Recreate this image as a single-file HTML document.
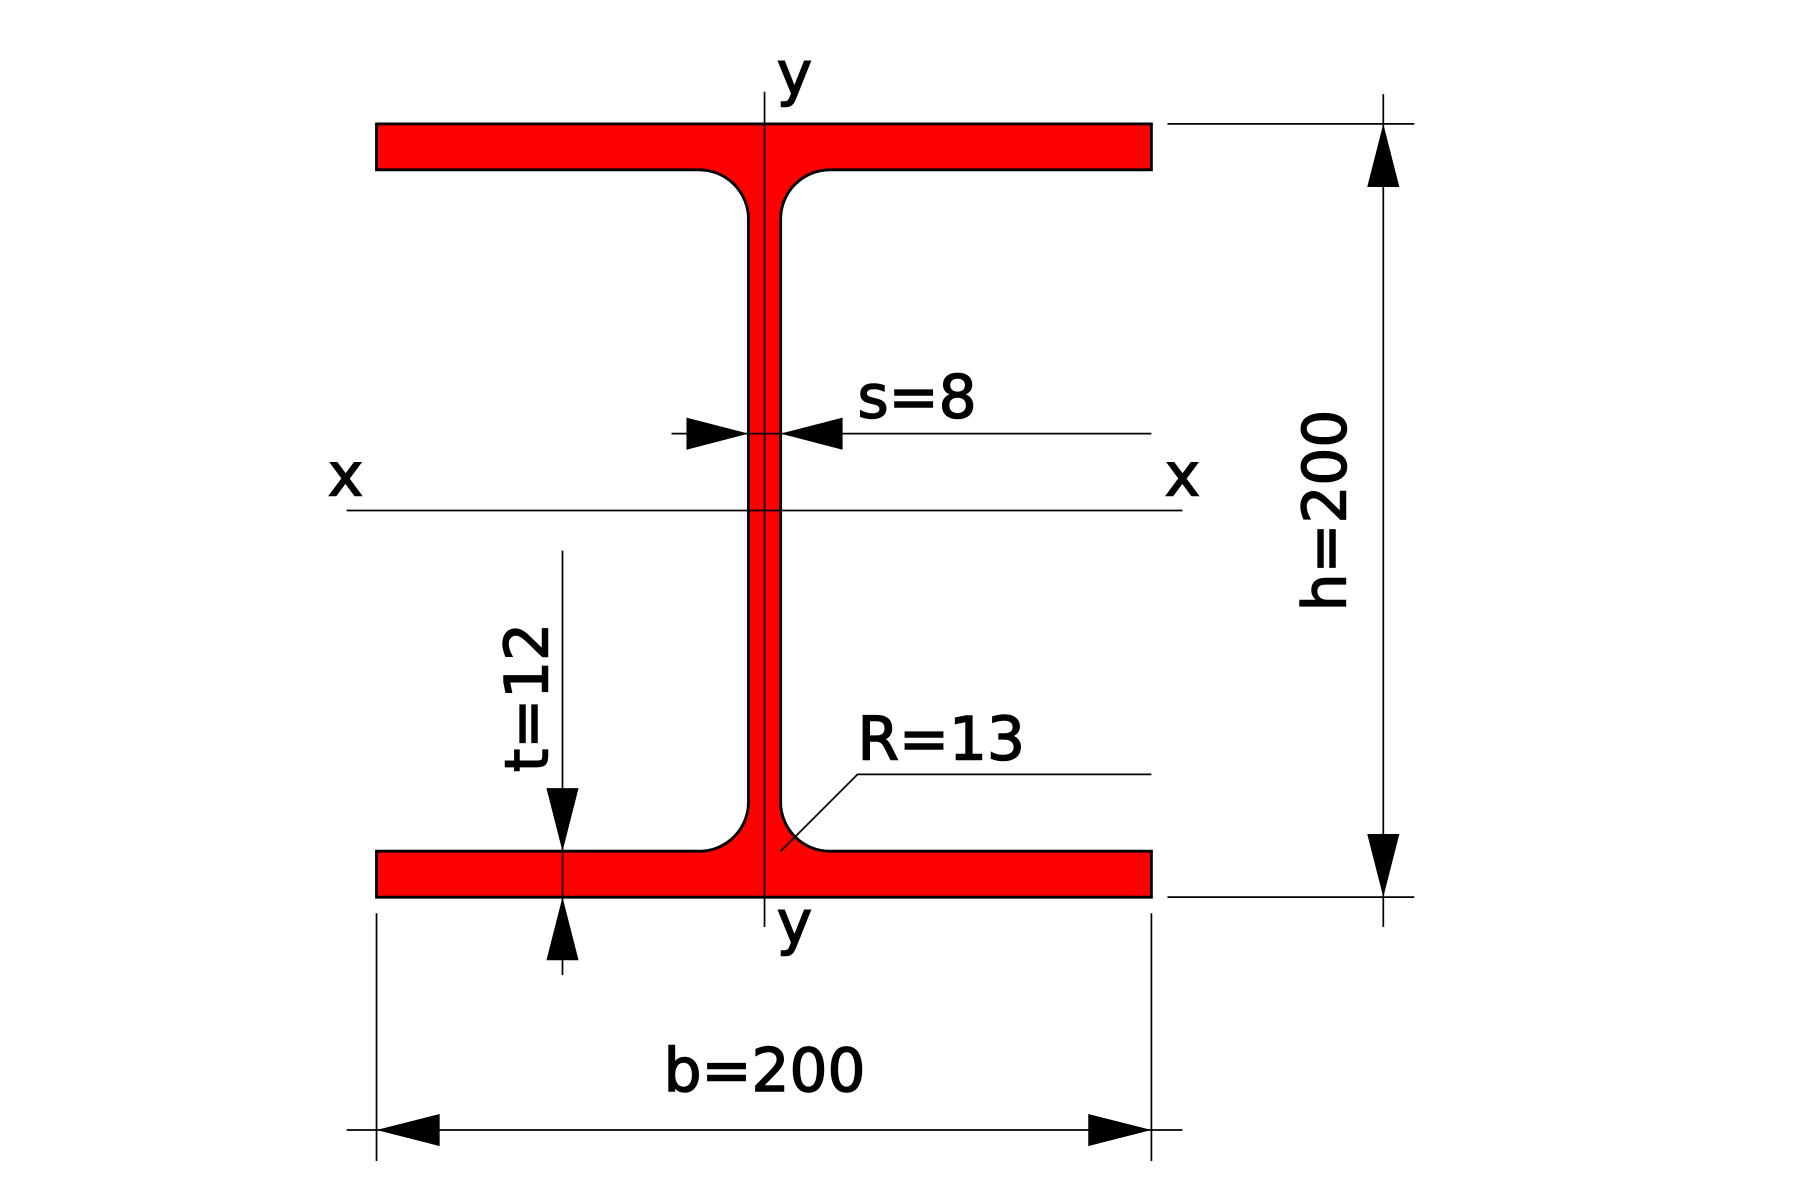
<!DOCTYPE html>
<html><head><style>html,body{margin:0;padding:0;background:#fff}svg{display:block}</style></head>
<body>
<svg width="1800" height="1200" viewBox="0 0 1568 1046" preserveAspectRatio="none" xmlns="http://www.w3.org/2000/svg">
<rect width="1568" height="1046" fill="#fff"/>
<path d="M328,108 H1003 V148 H723 A43,43 0 0 0 680,191 V698 A43,43 0 0 0 723,742 H1003 V782 H328 V742 H608 A43,43 0 0 0 652,698 V191 A43,43 0 0 0 608,148 H328 Z" fill="#ff0000" stroke="#000" stroke-width="2.5"/>
<g stroke="#000" stroke-width="1.5" fill="none">
<line x1="666" y1="80" x2="666" y2="808"/>
<line x1="302" y1="445" x2="1030" y2="445"/>
<line x1="585" y1="378" x2="1003" y2="378"/>
<line x1="1017" y1="108" x2="1232" y2="108"/>
<line x1="1017" y1="782" x2="1232" y2="782"/>
<line x1="1205" y1="82" x2="1205" y2="808"/>
<line x1="490" y1="480" x2="490" y2="850"/>
<polyline points="680,742 747,675 1003,675"/>
<line x1="328" y1="796" x2="328" y2="1012"/>
<line x1="1003" y1="796" x2="1003" y2="1012"/>
<line x1="302" y1="985" x2="1030" y2="985"/>
</g>
<g fill="#000">
<polygon points="652,378 598,364 598,392"/>
<polygon points="680,378 734,364 734,392"/>
<polygon points="1205,108 1191,163 1219,163"/>
<polygon points="1205,782 1191,727 1219,727"/>
<polygon points="490,742 476,687 504,687"/>
<polygon points="490,782 476,837 504,837"/>
<polygon points="328,985 383,971 383,999"/>
<polygon points="1003,985 948,971 948,999"/>
</g>
<g font-family="DejaVu Sans, Liberation Sans, sans-serif" font-size="52" fill="#000" stroke="#000" stroke-width="1.3">
<text x="692" y="82" text-anchor="middle">y</text>
<text x="692" y="822" text-anchor="middle">y</text>
<text x="301" y="432" text-anchor="middle">x</text>
<text x="1030" y="432" text-anchor="middle">x</text>
<text x="747" y="364">s=8</text>
<text x="747" y="662">R=13</text>
<text x="666" y="951" text-anchor="middle">b=200</text>
<text transform="translate(1172,445) rotate(-90)" text-anchor="middle">h=200</text>
<text transform="translate(477,608) rotate(-90)" text-anchor="middle">t=12</text>
</g>
</svg>
</body></html>
